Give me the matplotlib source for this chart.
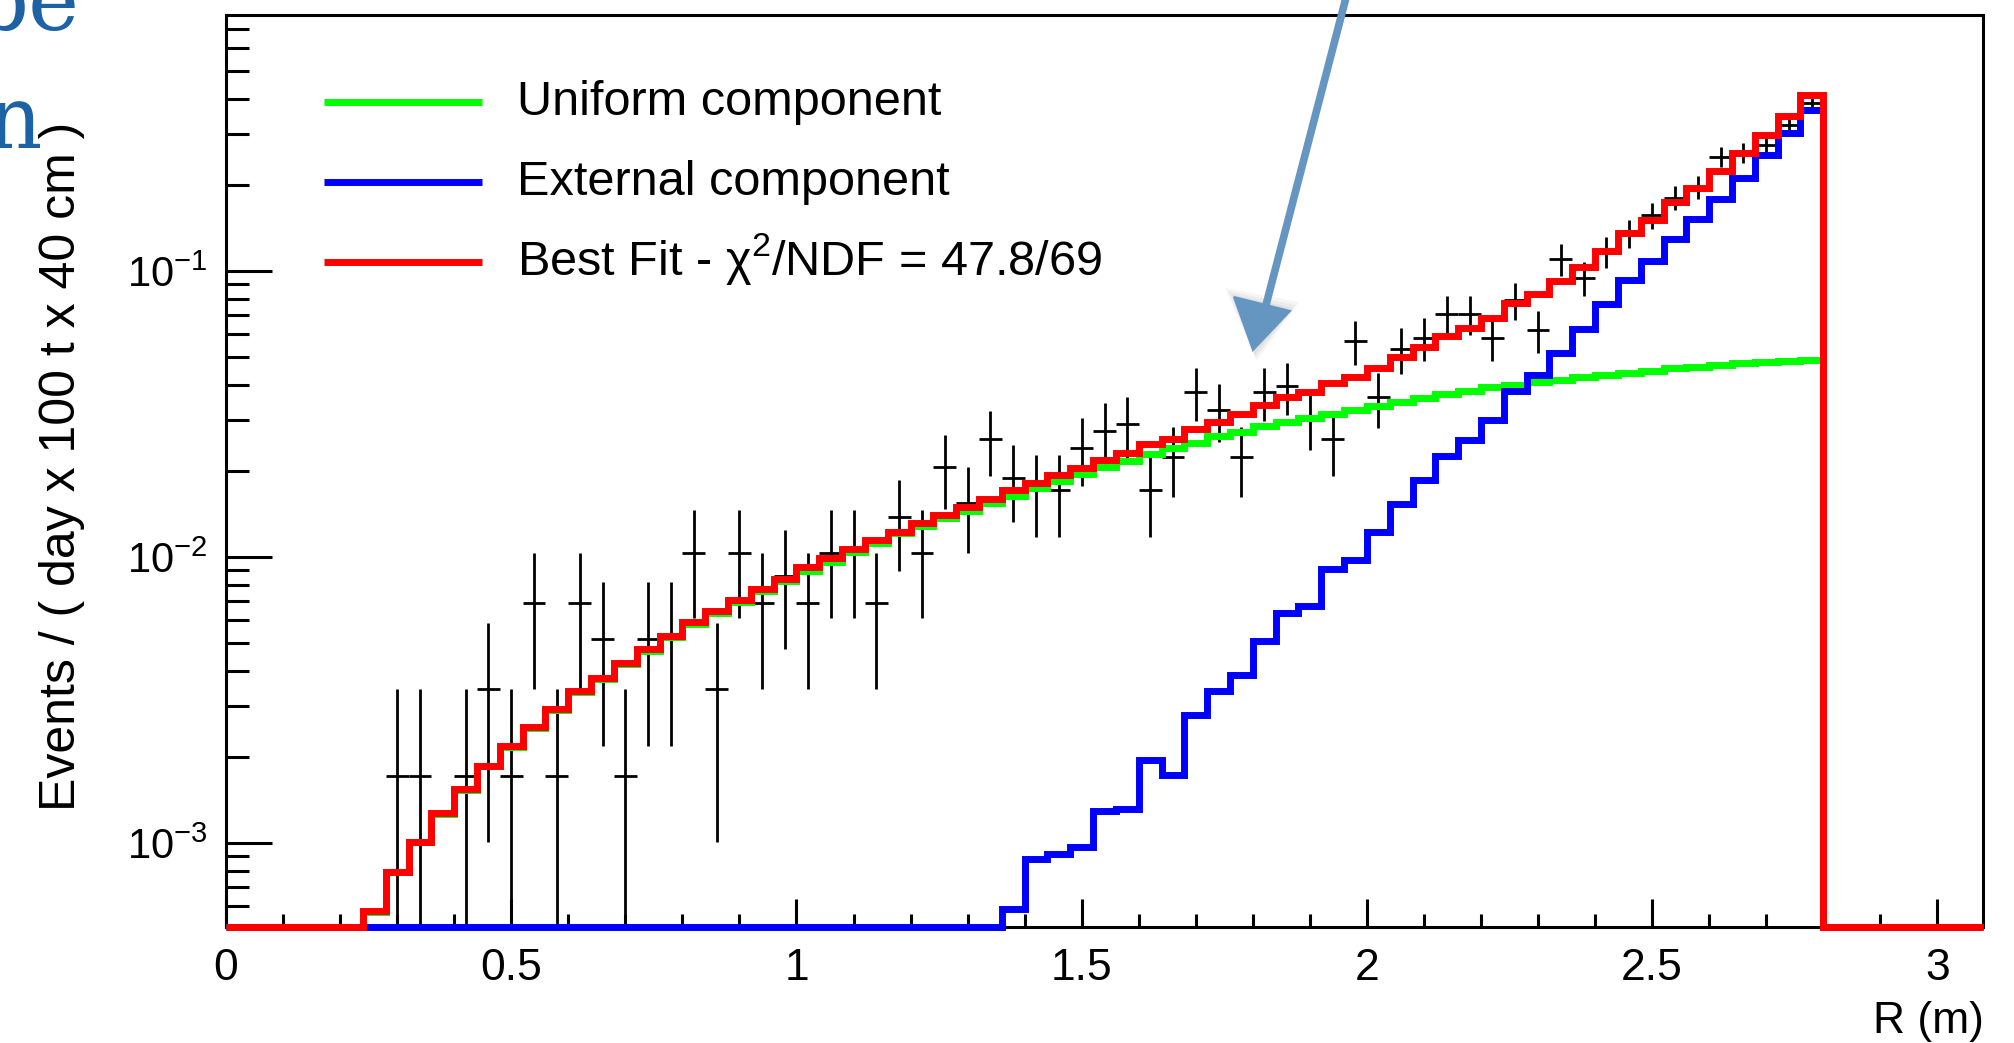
import numpy as np
import matplotlib
matplotlib.use("Agg")
import matplotlib.pyplot as plt
from matplotlib import font_manager
from matplotlib.lines import Line2D
from matplotlib.patches import Polygon
from matplotlib.ticker import MultipleLocator, LogLocator, NullFormatter

# ---------------------------------------------------------------- data
# radial binning: 77 bins of 4 cm between 0 and 3.08 m
bin_width = 0.04
n_bins = 77

uniform_vals = [
    0, 0, 0, 0, 0, 0,
    5.75e-4, 7.88e-4, 1.005e-3, 1.26e-3, 1.53e-3, 1.85e-3, 2.16e-3, 2.52e-3,
    2.91e-3, 3.36e-3, 3.74e-3, 4.22e-3, 4.69e-3, 5.24e-3, 5.83e-3, 6.37e-3,
    6.96e-3, 7.60e-3, 8.25e-3,
    8.95e-3, 9.58e-3, 1.038e-2, 1.116e-2, 1.21e-2, 1.283e-2, 1.365e-2, 1.448e-2,
    1.548e-2, 1.634e-2, 1.738e-2, 1.848e-2, 1.95e-2, 2.07e-2, 2.17e-2, 2.29e-2,
    2.40e-2, 2.51e-2, 2.64e-2, 2.74e-2, 2.88e-2, 2.97e-2, 3.06e-2, 3.16e-2,
    3.27e-2, 3.36e-2, 3.48e-2, 3.59e-2, 3.71e-2, 3.81e-2, 3.92e-2, 3.99e-2,
    4.08e-2, 4.16e-2, 4.25e-2, 4.33e-2, 4.41e-2, 4.48e-2, 4.57e-2, 4.63e-2,
    4.69e-2, 4.75e-2, 4.79e-2, 4.84e-2, 4.88e-2,
    0, 0, 0, 0, 0, 0, 0,
]

external_vals = [0] * 34 + [
    5.85e-4, 8.8e-4, 9.15e-4, 9.65e-4, 1.29e-3, 1.31e-3, 1.95e-3, 1.73e-3,
    2.79e-3, 3.39e-3, 3.85e-3, 5.10e-3, 6.35e-3, 6.74e-3, 9.06e-3, 9.77e-3,
    1.226e-2, 1.53e-2, 1.85e-2, 2.26e-2, 2.56e-2, 3.01e-2, 3.79e-2, 4.33e-2,
    5.18e-2, 6.25e-2, 7.65e-2, 9.31e-2, 0.108, 0.129, 0.152, 0.179,
    0.212, 0.255, 0.303, 0.366,
] + [0] * 7

fit_vals = [0] * 6 + [
    5.77e-4, 7.92e-4, 1.01e-3, 1.27e-3, 1.54e-3, 1.86e-3, 2.18e-3, 2.54e-3,
    2.94e-3, 3.40e-3, 3.78e-3, 4.27e-3, 4.75e-3, 5.31e-3, 5.91e-3, 6.47e-3,
    7.07e-3, 7.74e-3, 8.40e-3, 9.24e-3, 9.89e-3, 1.064e-2, 1.146e-2, 1.225e-2,
    1.312e-2, 1.40e-2, 1.50e-2, 1.60e-2, 1.71e-2, 1.82e-2, 1.94e-2, 2.04e-2,
    2.18e-2, 2.30e-2, 2.48e-2, 2.58e-2, 2.79e-2, 2.97e-2, 3.16e-2, 3.40e-2,
    3.62e-2, 3.76e-2, 4.07e-2, 4.25e-2, 4.57e-2, 5.02e-2, 5.41e-2, 5.93e-2,
    6.34e-2, 6.87e-2, 7.71e-2, 8.29e-2, 9.25e-2, 0.1035, 0.1177, 0.1355,
    0.1508, 0.1737, 0.1945, 0.2237, 0.2578, 0.299, 0.347, 0.413,
] + [0] * 7

data_r = [
    0.30, 0.34, 0.42, 0.46, 0.50, 0.54, 0.58, 0.62, 0.66, 0.70,
    0.74, 0.78, 0.82, 0.86, 0.90, 0.94, 0.98, 1.02, 1.06, 1.10,
    1.14, 1.18, 1.22, 1.26, 1.30, 1.34, 1.38, 1.42, 1.46, 1.50,
    1.54, 1.58, 1.62, 1.66, 1.70, 1.74, 1.78, 1.82, 1.86, 1.90,
    1.94, 1.98, 2.02, 2.06, 2.10, 2.14, 2.18, 2.22, 2.26, 2.30,
    2.34, 2.38, 2.42, 2.46, 2.50, 2.54, 2.58, 2.62, 2.66, 2.70,
    2.74, 2.78,
]
data_y = [
    0.00172, 0.00172, 0.00172, 0.00344, 0.00172, 0.00688, 0.00172, 0.00688, 0.00516, 0.00172,
    0.00516, 0.00516, 0.01032, 0.00344, 0.01032, 0.00688, 0.00860, 0.00688, 0.01032, 0.01032,
    0.00688, 0.01376, 0.01032, 0.02064, 0.01548, 0.02580, 0.01892, 0.01720, 0.01720, 0.02408,
    0.02752, 0.02924, 0.01720, 0.02236, 0.03784, 0.03268, 0.02236, 0.03784, 0.03956, 0.03020,
    0.02580, 0.05676, 0.03612, 0.05332, 0.05848, 0.07052, 0.07052, 0.05848, 0.07912, 0.06192,
    0.11008, 0.09460, 0.11696, 0.13588, 0.15652, 0.18060, 0.19608, 0.25112, 0.25972, 0.27520,
    0.32336, 0.38700,
]
data_err = [
    0.00172, 0.00172, 0.00172, 0.00243, 0.00172, 0.00344, 0.00172, 0.00344, 0.00298, 0.00172,
    0.00298, 0.00298, 0.00421, 0.00243, 0.00421, 0.00344, 0.00385, 0.00344, 0.00421, 0.00421,
    0.00344, 0.00486, 0.00421, 0.00596, 0.00516, 0.00666, 0.00570, 0.00544, 0.00544, 0.00644,
    0.00688, 0.00709, 0.00544, 0.00620, 0.00807, 0.00750, 0.00620, 0.00807, 0.00825, 0.00650,
    0.00666, 0.00988, 0.00788, 0.00958, 0.01003, 0.01101, 0.01101, 0.01003, 0.01167, 0.01032,
    0.01376, 0.01276, 0.01418, 0.01529, 0.01641, 0.01762, 0.01836, 0.02078, 0.02114, 0.02176,
    0.02358, 0.02580,
]

legend_labels = [
    "Uniform component",
    "External component",
    r"Best Fit - $\mathrm{\chi}^{2}$/NDF = 47.8/69",
]
x_label = "R (m)"
y_label = "Events / ( day x 100 t x 40 cm )"

# ---------------------------------------------------------------- style
W, H, DPI = 2014, 1043, 100
available = {f.name for f in font_manager.fontManager.ttflist}
NARROW = "Liberation Sans Narrow" if "Liberation Sans Narrow" in available else "Liberation Sans"
plt.rcParams["font.family"] = [NARROW, "DejaVu Sans"]
plt.rcParams["mathtext.fontset"] = "custom"
plt.rcParams["mathtext.rm"] = NARROW
plt.rcParams["mathtext.it"] = NARROW + ":italic"
plt.rcParams["mathtext.bf"] = NARROW + ":bold"

GREEN, BLUE, RED = "#00ff00", "#0000ff", "#ff0000"
HIST_LW = 5.0
LEGEND_SIZE = 35
TICK_SIZE = 32


def fx(px):
    return px / W


def fy(py):
    return 1 - py / H


fig = plt.figure(figsize=(W / DPI, H / DPI), dpi=DPI)
fig.patch.set_facecolor("white")
ax = fig.add_axes([fx(226), fy(927), (1983 - 226) / W, (927 - 15) / H])
ax.set_yscale("log")
ax.set_xlim(0, bin_width * n_bins)
ax.set_ylim(5.08e-4, 0.785)

edges = np.arange(n_bins + 1) * bin_width
floor = ax.get_ylim()[0]


def on_frame(vals):
    # empty bins are drawn along the bottom of the frame
    v = np.asarray(vals, dtype=float)
    return np.where(v > 0, v, floor)


ax.errorbar(data_r, data_y, yerr=data_err, xerr=bin_width / 2, fmt="none",
            ecolor="black", elinewidth=2.0, capsize=0, zorder=2)

for vals, col, z in ((uniform_vals, GREEN, 3), (external_vals, BLUE, 4), (fit_vals, RED, 5)):
    st = ax.stairs(on_frame(vals), edges, baseline=None, fill=False,
                   color=col, linewidth=HIST_LW, zorder=z, clip_on=False)
    st.set_joinstyle("miter")

# axes frame and ticks
for sp in ax.spines.values():
    sp.set_linewidth(2.2)
ax.xaxis.set_major_locator(MultipleLocator(0.5))
ax.xaxis.set_minor_locator(MultipleLocator(0.1))
ax.xaxis.set_major_formatter(plt.FuncFormatter(lambda v, p: f"{v:g}"))
ax.yaxis.set_major_locator(LogLocator(base=10))
ax.yaxis.set_minor_locator(LogLocator(base=10, subs=np.arange(2, 10)))
ax.yaxis.set_minor_formatter(NullFormatter())
ax.tick_params(axis="both", which="both", direction="in", top=False, right=False,
               width=2.2, colors="black")
ax.tick_params(axis="x", which="major", length=20, pad=15, labelsize=TICK_SIZE)
ax.tick_params(axis="x", which="minor", length=9.5)
ax.tick_params(axis="y", which="major", length=33, pad=13, labelsize=30)
ax.tick_params(axis="y", which="minor", length=16.5)

# axis titles
fig.text(fx(1984), fy(1033), x_label, ha="right", va="baseline", fontsize=TICK_SIZE)
fig.text(fx(62), fy(466), y_label, rotation=90, ha="center", va="center",
         fontsize=36, family=["Liberation Sans", "DejaVu Sans"])

# legend (no frame)
for i, (lab, col) in enumerate(zip(legend_labels, (GREEN, BLUE, RED))):
    yl = 102 + 80 * i
    fig.add_artist(Line2D([fx(324), fx(482)], [fy(yl), fy(yl)], transform=fig.transFigure,
                          color=col, linewidth=HIST_LW, solid_capstyle="butt"))
    fig.text(fx(517), fy(115 + 80 * i), lab, ha="left", va="baseline", fontsize=LEGEND_SIZE)

# hand-drawn pointer arrow with a soft shadow under the head
arrow_col = "#6596c2"
for k, a in ((9, 0.05), (6, 0.06), (3, 0.07)):
    fig.add_artist(Polygon([[fx(1234 - k), fy(297 - k)], [fx(1290 + k), fy(311 - k)],
                            [fx(1254 + k * 0.3), fy(352 + k)]],
                           closed=True, transform=fig.transFigure, facecolor="#555555",
                           edgecolor="none", alpha=a))
fig.add_artist(Line2D([fx(1348), fx(1266)], [fy(-10), fy(305)], transform=fig.transFigure,
                      color=arrow_col, linewidth=5.5, solid_capstyle="round"))
fig.add_artist(Polygon([[fx(1234), fy(297)], [fx(1290), fy(311)], [fx(1253), fy(350)]],
                       closed=True, transform=fig.transFigure, facecolor=arrow_col,
                       edgecolor=arrow_col, linewidth=1.5))

# fragments of the slide title on the left edge
title_col = "#1c62a4"
fig.text(fx(80), fy(30), "be", ha="right", va="baseline", fontsize=62,
         family="DejaVu Serif", color=title_col)
fig.text(fx(42), fy(148), "n", ha="right", va="baseline", fontsize=62,
         family="DejaVu Serif", color=title_col)

fig.savefig("out.png", dpi=DPI, facecolor="white")
